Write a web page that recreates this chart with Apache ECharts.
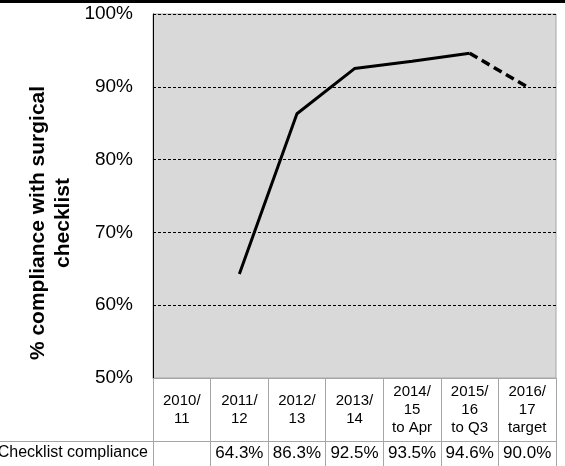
<!DOCTYPE html>
<html>
<head>
<meta charset="utf-8">
<script src="https://cdn.jsdelivr.net/npm/echarts@6/dist/echarts.min.js"></script>
<style>
  html, body { margin: 0; padding: 0; background: #fff; }
  #chart { width: 565px; height: 466px; }
</style>
</head>
<body>
<div id="chart"></div>
<script>
  // data
  var categories = ['2010/\n11', '2011/\n12', '2012/\n13', '2013/\n14', '2014/\n15\nto Apr', '2015/\n16\nto Q3', '2016/\n17\ntarget'];
  var compliance = [null, 64.3, 86.3, 92.5, 93.5, 94.6, 90.0];
  var yTicks = [50, 60, 70, 80, 90, 100];
  var rowLabel = 'Checklist compliance';
  var axisTitle = '% compliance with surgical\nchecklist';

  // last point is the target, drawn dashed
  var last = compliance.length - 1;
  var actual = compliance.map(function (v, i) { return i < last ? v : null; });
  var target = compliance.map(function (v, i) { return i >= last - 1 ? v : null; });

  var W = 565, H = 466;
  var gridLeft = 153, gridRight = 9, gridTop = 14, gridBottom = 88;
  var catRow = 63;          // height of category row in the table
  var font = 'Liberation Sans, Arial, sans-serif';
  var tableColor = '#a6a6a6';

  var chart = echarts.init(document.getElementById('chart'));

  var option = {
    backgroundColor: '#fff',
    animation: false,
    textStyle: { fontFamily: font, color: '#000' },
    grid: {
      left: gridLeft, right: gridRight, top: gridTop, bottom: gridBottom,
      outerBoundsMode: 'none',
      containLabel: false,
      show: true,
      backgroundColor: '#d9d9d9',
      borderColor: tableColor,
      borderWidth: 1
    },
    xAxis: [
      {
        type: 'category',
        data: categories,
        position: 'bottom',
        boundaryGap: true,
        axisLine: { show: true, lineStyle: { color: tableColor, width: 1 } },
        axisTick: { show: true, interval: 0, length: gridBottom, lineStyle: { color: tableColor, width: 1 } },
        axisLabel: {
          interval: 0, margin: catRow / 2, verticalAlign: 'middle',
          fontSize: 15, lineHeight: 18, color: '#000', fontFamily: font
        },
        splitLine: { show: false }
      },
      {
        type: 'category',
        data: categories,
        position: 'bottom',
        offset: catRow,
        boundaryGap: true,
        axisLine: { show: false },
        axisTick: { show: false },
        axisLabel: {
          interval: 0, margin: 12, verticalAlign: 'middle',
          fontSize: 17, color: '#000', fontFamily: font,
          formatter: function (v, i) {
            return compliance[i] == null ? '' : compliance[i].toFixed(1) + '%';
          }
        },
        name: rowLabel,
        nameLocation: 'start',
        nameGap: 5,
        nameTextStyle: { fontSize: 16, color: '#000', fontFamily: font, verticalAlign: 'top', lineHeight: 24 },
        splitLine: { show: false }
      }
    ],
    yAxis: {
      type: 'value',
      min: yTicks[0],
      max: yTicks[yTicks.length - 1],
      interval: yTicks[1] - yTicks[0],
      axisLine: { show: true, lineStyle: { color: '#000', width: 1 } },
      axisTick: { show: false },
      axisLabel: { formatter: '{value}%', fontSize: 19, margin: 20, color: '#000', fontFamily: font },
      splitLine: { show: true, lineStyle: { color: '#000', type: [3, 2], width: 1 } }
    },
    graphic: [
      { type: 'rect', left: 0, top: 0, shape: { width: W, height: 3 }, style: { fill: '#000' }, silent: true },
      {
        type: 'line', silent: true,
        shape: { x1: 0, y1: H - gridBottom + catRow + 0.5, x2: W - gridRight, y2: H - gridBottom + catRow + 0.5 },
        style: { stroke: tableColor, lineWidth: 1 }
      },
      {
        type: 'text', x: 51, y: 223, rotation: Math.PI / 2, silent: true,
        style: {
          text: axisTitle, fill: '#000', font: 'bold 21px ' + font,
          textAlign: 'center', textVerticalAlign: 'middle', lineHeight: 25
        }
      }
    ],
    series: [
      {
        type: 'line', xAxisIndex: 0, data: actual,
        showSymbol: false, symbol: 'none', connectNulls: false,
        lineStyle: { color: '#000', width: 3 }
      },
      {
        type: 'line', xAxisIndex: 0, data: target,
        showSymbol: false, symbol: 'none',
        lineStyle: { color: '#000', width: 3.5, type: [9, 5] }
      }
    ]
  };

  chart.setOption(option);
</script>
</body>
</html>
